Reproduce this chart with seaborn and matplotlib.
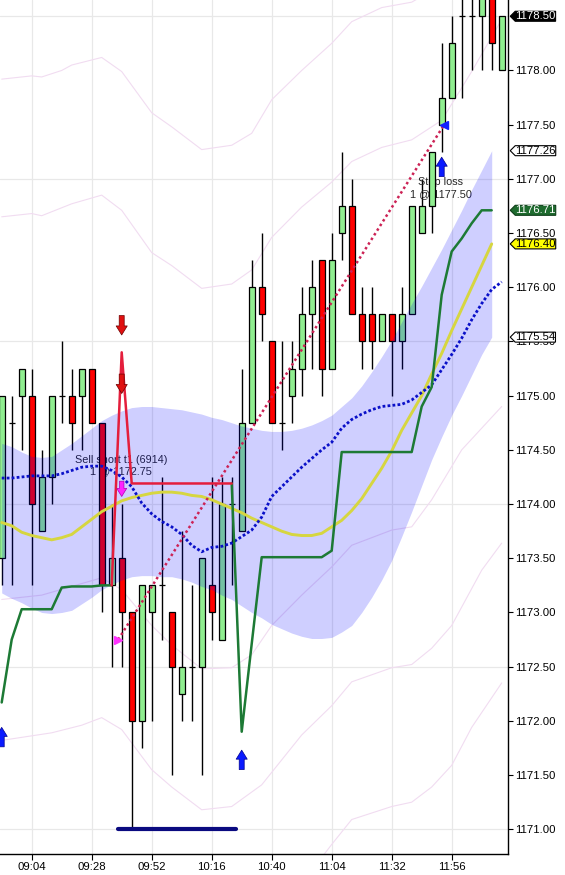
import numpy as np
import pandas as pd
import matplotlib
matplotlib.use("Agg")
import matplotlib.pyplot as plt
from matplotlib.path import Path
import seaborn as sns

# 4 minute bars, bar 0 = 08:52
opens = [1173.50, 1174.75, 1175.00, 1175.00, 1173.75, 1174.25, 1175.00, 1175.00, 1175.00, 1175.25,
         1174.75, 1173.25, 1173.50, 1173.00, 1172.00, 1173.00, 1173.25, 1173.00, 1172.25, 1172.50,
         1172.50, 1173.25, 1172.75, 1174.00, 1173.75, 1174.75, 1176.00, 1175.50, 1174.75, 1175.00,
         1175.25, 1175.75, 1176.25, 1175.25, 1176.50, 1176.75, 1175.75, 1175.75, 1175.50, 1175.75,
         1175.50, 1175.75, 1176.50, 1176.75, 1177.50, 1177.75, 1178.50, 1178.50, 1178.50, 1178.75,
         1178.00]
highs = [1175.00, 1175.00, 1175.25, 1175.25, 1174.50, 1175.00, 1175.50, 1175.25, 1175.25, 1175.25,
         1174.75, 1174.00, 1174.00, 1173.00, 1173.25, 1173.25, 1174.25, 1173.00, 1173.75, 1173.25,
         1173.50, 1174.25, 1174.25, 1174.25, 1175.25, 1176.25, 1176.50, 1175.50, 1175.50, 1175.50,
         1176.00, 1176.25, 1176.25, 1176.50, 1177.25, 1177.00, 1176.00, 1176.00, 1175.75, 1175.75,
         1176.00, 1176.75, 1177.00, 1177.25, 1178.25, 1178.50, 1178.75, 1178.75, 1178.75, 1178.75,
         1178.50]
lows = [1173.25, 1173.25, 1174.50, 1173.25, 1173.75, 1174.00, 1174.75, 1174.50, 1174.50, 1174.75,
        1173.00, 1172.50, 1172.50, 1171.00, 1171.75, 1172.00, 1172.75, 1171.50, 1172.00, 1172.00,
        1171.50, 1172.75, 1172.75, 1173.25, 1173.75, 1174.75, 1175.50, 1174.75, 1174.50, 1174.75,
        1175.00, 1175.25, 1175.00, 1175.25, 1176.25, 1175.75, 1175.25, 1175.25, 1175.50, 1175.00,
        1175.25, 1175.75, 1176.50, 1176.50, 1177.25, 1177.75, 1177.75, 1178.00, 1178.00, 1178.00,
        1178.00]
closes = [1175.00, 1174.75, 1175.25, 1174.00, 1174.25, 1175.00, 1175.00, 1174.75, 1175.25, 1174.75,
          1173.25, 1173.50, 1173.00, 1172.00, 1173.25, 1173.25, 1173.25, 1172.50, 1172.50, 1172.50,
          1173.50, 1173.00, 1174.00, 1174.00, 1174.75, 1176.00, 1175.75, 1174.75, 1174.75, 1175.25,
          1175.75, 1176.00, 1175.25, 1176.25, 1176.75, 1175.75, 1175.50, 1175.50, 1175.75, 1175.50,
          1175.75, 1176.75, 1176.75, 1177.25, 1177.75, 1178.25, 1178.50, 1178.50, 1178.75, 1178.25,
          1178.50]

tick_bars = [3, 9, 15, 21, 27, 33, 39, 45]
tick_labels = ["09:04", "09:28", "09:52", "10:16", "10:40", "11:04", "11:32", "11:56"]

# shaded band (bars 0..49)
band_upper = [1174.56, 1174.53, 1174.48, 1174.44, 1174.43, 1174.44, 1174.50, 1174.56, 1174.63, 1174.70,
              1174.77, 1174.82, 1174.86, 1174.89, 1174.90, 1174.90, 1174.89, 1174.88, 1174.87, 1174.85,
              1174.83, 1174.80, 1174.78, 1174.75, 1174.72, 1174.70, 1174.68, 1174.67, 1174.67, 1174.68,
              1174.70, 1174.73, 1174.77, 1174.82, 1174.90, 1174.98, 1175.09, 1175.22, 1175.36, 1175.51,
              1175.68, 1175.85, 1176.01, 1176.18, 1176.35, 1176.53, 1176.71, 1176.90, 1177.08, 1177.26]
band_lower = [1173.18, 1173.13, 1173.09, 1173.04, 1173.00, 1172.99, 1173.00, 1173.02, 1173.08, 1173.14,
              1173.21, 1173.26, 1173.30, 1173.33, 1173.34, 1173.34, 1173.33, 1173.33, 1173.31, 1173.28,
              1173.24, 1173.21, 1173.16, 1173.12, 1173.06, 1173.00, 1172.95, 1172.89, 1172.85, 1172.81,
              1172.78, 1172.76, 1172.76, 1172.77, 1172.82, 1172.88, 1173.00, 1173.14, 1173.30, 1173.48,
              1173.70, 1173.93, 1174.17, 1174.41, 1174.62, 1174.82, 1175.00, 1175.19, 1175.38, 1175.54]

# blue dotted average (bars 0..50)
blue_avg = [1174.24, 1174.24, 1174.25, 1174.26, 1174.26, 1174.26, 1174.28, 1174.31, 1174.34, 1174.35,
            1174.35, 1174.31, 1174.25, 1174.16, 1174.01, 1173.91, 1173.84, 1173.79, 1173.72, 1173.62,
            1173.56, 1173.60, 1173.61, 1173.64, 1173.70, 1173.76, 1173.88, 1174.07, 1174.16, 1174.25,
            1174.34, 1174.42, 1174.50, 1174.57, 1174.70, 1174.78, 1174.83, 1174.87, 1174.90, 1174.91,
            1174.92, 1174.96, 1175.03, 1175.10, 1175.24, 1175.38, 1175.53, 1175.70, 1175.85, 1175.98,
            1176.05]

# yellow average (bars 0..49)
yellow_avg = [1173.83, 1173.80, 1173.74, 1173.71, 1173.69, 1173.67, 1173.69, 1173.72, 1173.79, 1173.86,
              1173.93, 1173.98, 1174.03, 1174.06, 1174.08, 1174.10, 1174.11, 1174.11, 1174.10, 1174.08,
              1174.07, 1174.04, 1174.00, 1173.96, 1173.92, 1173.87, 1173.83, 1173.79, 1173.75, 1173.72,
              1173.71, 1173.71, 1173.73, 1173.79, 1173.85, 1173.94, 1174.05, 1174.19, 1174.33, 1174.49,
              1174.68, 1174.84, 1175.00, 1175.20, 1175.39, 1175.60, 1175.80, 1176.00, 1176.20, 1176.40]

# stop line: green while flat/long, red while short
stop_a_bars = list(range(0, 12))
stop_a = [1172.17, 1172.75, 1173.03, 1173.03, 1173.03, 1173.03, 1173.23, 1173.24, 1173.24, 1173.24,
          1173.25, 1173.25]
stop_short_bars = list(range(11, 24))
stop_short = [1173.25, 1175.40, 1174.19, 1174.19, 1174.19, 1174.19, 1174.19, 1174.19, 1174.19, 1174.19,
              1174.19, 1174.19, 1174.19]
stop_b_bars = list(range(23, 50))
stop_b = [1174.19, 1171.90, 1172.71, 1173.51, 1173.51, 1173.51, 1173.51, 1173.51, 1173.51, 1173.51,
          1173.57, 1174.48, 1174.48, 1174.48, 1174.48, 1174.48, 1174.48, 1174.48, 1174.48, 1174.90,
          1175.08, 1175.93, 1176.33, 1176.45, 1176.59, 1176.71, 1176.71]

# faint envelope lines
env1_bars = [0, 3, 4, 6, 7, 10, 12, 15, 17, 20, 23, 25, 27, 30, 33, 35, 38, 41, 44]
env1 = [1177.92, 1177.95, 1177.94, 1178.00, 1178.05, 1178.12, 1177.99, 1177.61, 1177.48, 1177.27,
        1177.31, 1177.42, 1177.73, 1178.00, 1178.25, 1178.45, 1178.58, 1178.63, 1178.79]
env2_bars = [0, 3, 4, 7, 10, 12, 15, 17, 20, 23, 25, 27, 30, 33, 35, 38, 41, 44, 47, 50]
env2 = [1176.65, 1176.68, 1176.66, 1176.77, 1176.85, 1176.71, 1176.32, 1176.20, 1175.99, 1176.03,
        1176.16, 1176.46, 1176.74, 1176.97, 1177.16, 1177.29, 1177.36, 1177.54, 1177.99, 1178.47]
env3_bars = [0, 4, 7, 10, 12, 15, 17, 20, 23, 25, 27, 30, 33, 35, 39, 41, 43, 46, 50]
env3 = [1173.12, 1173.16, 1173.24, 1173.32, 1173.21, 1172.88, 1172.70, 1172.48, 1172.49, 1172.61,
        1172.88, 1173.16, 1173.42, 1173.62, 1173.76, 1173.79, 1174.04, 1174.50, 1174.90]
env4_bars = [0, 5, 8, 10, 12, 15, 17, 20, 23, 26, 28, 30, 33, 35, 39, 41, 43, 45, 48, 50]
env4 = [1171.82, 1171.89, 1171.96, 1172.03, 1171.92, 1171.55, 1171.39, 1171.18, 1171.21, 1171.41,
        1171.64, 1171.87, 1172.14, 1172.36, 1172.49, 1172.52, 1172.67, 1172.88, 1173.39, 1173.64]
env5_bars = [31, 33, 35, 39, 41, 43, 45, 47, 50]
env5 = [1170.62, 1170.86, 1171.09, 1171.21, 1171.25, 1171.39, 1171.59, 1171.94, 1172.35]

# trade
entry_bar, entry_price = 11.65, 1172.75
exit_bar, exit_price = 44.25, 1177.50
low_line_bars = [11.65, 23.45]
low_line_price = 1171.00
long_arrow_bars = [0, 24, 44]
long_arrow_tips = [1171.94, 1171.73, 1177.20]
short_arrow_bars = [12, 12]
short_arrow_tips = [1175.56, 1175.02]
fill_arrow_bar, fill_arrow_tip = 12, 1174.07

sns.set_style("white")
plt.rcParams["font.family"] = ["Liberation Sans", "DejaVu Sans"]
plt.rcParams["font.size"] = 8.2

fig = plt.figure(figsize=(5.65, 8.75), dpi=100)
ax = fig.add_axes([0, 21 / 875, 508 / 565, 854 / 875])

bars = np.arange(len(opens))
o, h, l, c = map(np.array, (opens, highs, lows, closes))

# grid
for lvl in np.arange(1171.0, 1179.0, 1.5):
    ax.axhline(lvl, color="#e8e8e8", lw=0.9, zorder=0)
for tb in tick_bars:
    ax.axvline(tb, color="#e8e8e8", lw=0.9, zorder=0)

for xs, ys in [(env1_bars, env1), (env2_bars, env2), (env3_bars, env3), (env4_bars, env4), (env5_bars, env5)]:
    sns.lineplot(x=xs, y=ys, ax=ax, color="#f1dcf1", lw=0.8, zorder=1)

# candles
body_colors = np.where(c < o, "#ff0000", "#90ee90")
ax.vlines(bars, l, h, color="black", lw=1, zorder=2)
ax.bar(bars, np.abs(c - o), bottom=np.minimum(o, c), width=0.6, color=body_colors,
       edgecolor="black", linewidth=0.9, zorder=3)

# text of the orders
ax.text(11.9, 1174.41, "Sell short t1 (6914)", ha="center", va="center", fontsize=7.8, zorder=2.5)
ax.text(11.9, 1174.30, "1 @ 1172.75", ha="center", va="center", fontsize=7.8, zorder=2.5)
ax.text(43.9, 1176.97, "Stop loss", ha="center", va="center", fontsize=7.8, zorder=2.5)
ax.text(43.9, 1176.86, "1 @ 1177.50", ha="center", va="center", fontsize=7.8, zorder=2.5)

# translucent band over the candles
ax.fill_between(bars[:len(band_upper)], band_lower, band_upper, color="#0000ff", alpha=0.19, lw=0, zorder=4)

sns.lineplot(x=bars[:len(yellow_avg)], y=yellow_avg, ax=ax, color="#d6d640", lw=2.1, zorder=5)
sns.lineplot(x=bars, y=blue_avg, ax=ax, color="#0a10c8", lw=2.0, linestyle=(0, (1, 0.8)), zorder=5)
sns.lineplot(x=stop_a_bars, y=stop_a, ax=ax, color="#1d7a35", lw=1.8, zorder=5)
sns.lineplot(x=stop_b_bars, y=stop_b, ax=ax, color="#1d7a35", lw=1.8, zorder=5)
sns.lineplot(x=stop_short_bars, y=stop_short, ax=ax, color="#e41e3c", lw=1.8, zorder=5)

# trade line and markers
sns.lineplot(x=[entry_bar, exit_bar], y=[entry_price, exit_price], ax=ax, color="#cc2255", lw=1.8,
             linestyle=(0, (1, 1.2)), zorder=5)
sns.lineplot(x=low_line_bars, y=[low_line_price, low_line_price], ax=ax, color="#0a0a80", lw=3, zorder=5)
ax.plot([entry_bar], [entry_price], marker=">", ms=5.5, color="#ff33ff", zorder=6)
ax.plot([exit_bar], [exit_price], marker="<", ms=6, color="#1020ff", zorder=6)


def signal_arrow(bar, tip, direction, face, edge, length=14.0, scale=10):
    ax.annotate("", xy=(bar, tip), xytext=(0, -length * direction), textcoords="offset points",
                arrowprops=dict(arrowstyle="simple,head_length=0.65,head_width=0.8,tail_width=0.36",
                                fc=face, ec=edge, lw=0.5, shrinkA=0, shrinkB=0, mutation_scale=scale),
                zorder=6)


for b, t in zip(long_arrow_bars, long_arrow_tips):
    signal_arrow(b, t, 1, "#0a1aff", "#00008b")
for b, t in zip(short_arrow_bars, short_arrow_tips):
    signal_arrow(b, t, -1, "#e01010", "#6a0000")
signal_arrow(fill_arrow_bar, fill_arrow_tip, -1, "#ff22ff", "#b000b0", length=11, scale=9)

# axes
ax.set_xlim(-0.17, 50.63)
ax.set_ylim(1170.772, 1178.65)
ax.set_xticks(tick_bars, tick_labels)
ax.set_yticks(np.arange(1171.0, 1178.01, 0.5))
ax.set_yticklabels([f"{v:.2f}" for v in np.arange(1171.0, 1178.01, 0.5)])
ax.yaxis.tick_right()
ax.tick_params(axis="y", right=True, left=False, labelright=True, labelleft=False, length=3.6,
               width=0.8, pad=1.5, colors="black", labelsize=8.2)
ax.tick_params(axis="x", bottom=True, length=4.3, width=0.8, pad=1.5, colors="black", labelsize=8.2)
ax.set_xlabel("")
ax.set_ylabel("")
for side in ["left", "top"]:
    ax.spines[side].set_visible(False)
for side in ["right", "bottom"]:
    ax.spines[side].set_color("black")
    ax.spines[side].set_linewidth(1)


def tag_box(x0, y0, width, height, mutation_size):
    x1, y1 = x0 + width, y0 + height
    half = (y1 - y0) / 2
    return Path([(x0, y0), (x1, y0), (x1, y1), (x0, y1), (x0 - half, y0 + half), (x0, y0)], closed=True)


tags = [
    (closes[-1], "black", "white", "black"),
    (band_upper[-1], "white", "black", "black"),
    (stop_b[-1], "#1e6b2e", "white", "#0d3d18"),
    (yellow_avg[-1], "#ffff00", "black", "black"),
    (band_lower[-1], "white", "black", "black"),
]
for val, face, txt, edge in tags:
    ax.annotate(f"{val:.2f}", xy=(1.0, val), xycoords=("axes fraction", "data"), xytext=(5.2, 0),
                textcoords="offset points", ha="left", va="center", color=txt, fontsize=8.2,
                annotation_clip=False, zorder=8,
                bbox=dict(boxstyle=tag_box, fc=face, ec=edge, lw=0.8))

fig.savefig("out.png", dpi=100)
